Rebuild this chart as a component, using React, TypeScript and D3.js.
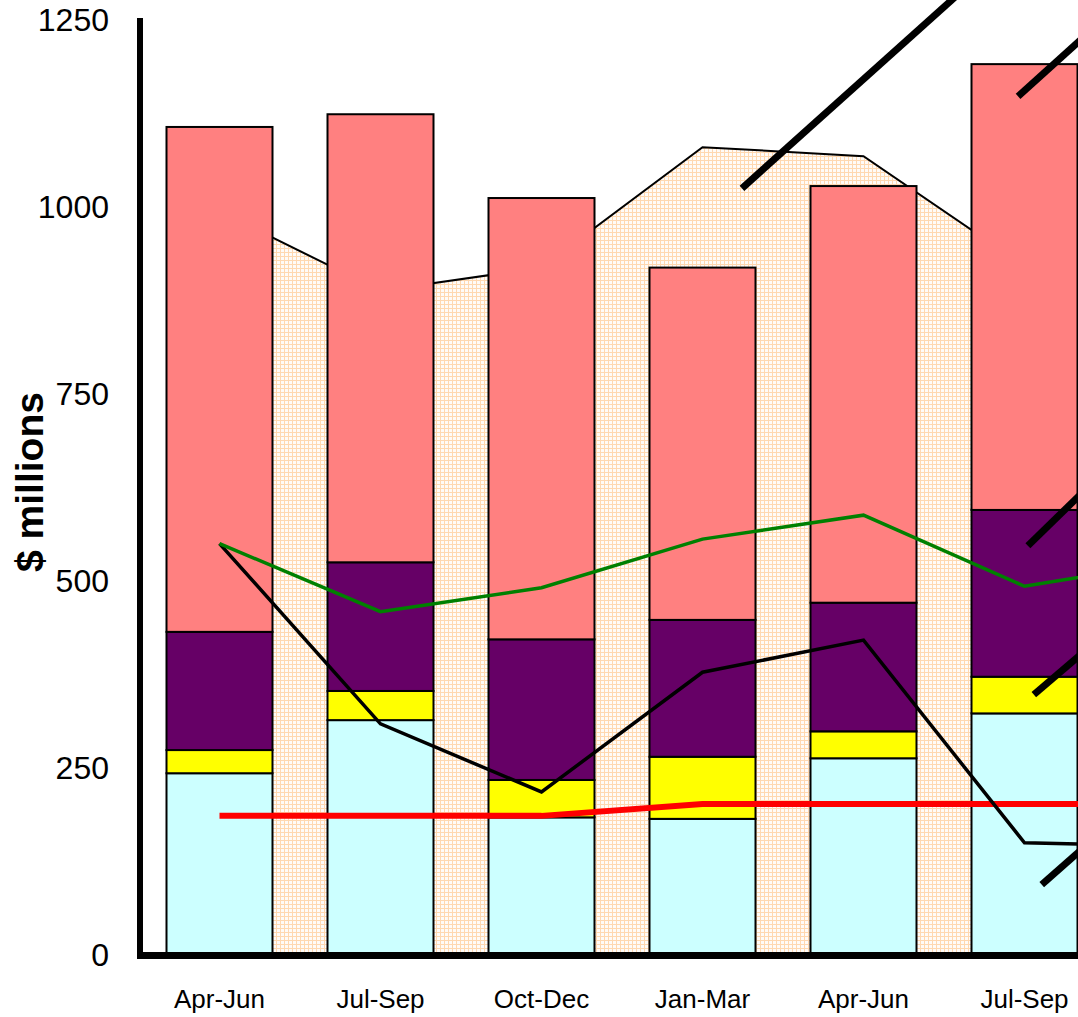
import React from "react";
import * as d3 from "d3";

const categories = ["Apr-Jun", "Jul-Sep", "Oct-Dec", "Jan-Mar", "Apr-Jun ", "Jul-Sep ", "Oct-Dec "];
const yTicks = [0, 250, 500, 750, 1000, 1250];

// stacked bar series (increments), bottom to top
const cyanVals = [243, 314, 184, 182, 263, 323];
const yellowVals = [31, 39, 50, 83, 36, 49];
const purpleVals = [158, 172, 188, 183, 172, 223];
const salmonVals = [675, 599, 590, 471, 557, 596];

// background area and lines
const areaVals = [994, 888, 919, 1080, 1068, 921, 950];
const greenVals = [550, 459, 491, 556, 588, 493, 528];
const blackVals = [550, 309, 218, 378, 421, 150, 145];
const redVals = [186, 186, 186, 202, 202, 202, 202];

// thick annotation strokes: [startIndex, startValue, endIndex, endValue]
const strokes: [number, number, number, number][] = [
  [3.245, 1025, 5, 1364],
  [4.96, 1148, 6, 1350],
  [5.021, 547, 6, 753],
  [5.058, 348, 6, 522],
  [5.107, 94, 6, 264],
];

const W = 1078;
const H = 1017;
const FONT = "'Liberation Sans', Arial, Helvetica, sans-serif";

export default function App() {
  const x = d3.scalePoint<string>().domain(categories).range([219.5, 219.5 + 161 * (categories.length - 1)]);
  const xi = d3.scaleLinear().domain([0, categories.length - 1]).range([219.5, 219.5 + 161 * (categories.length - 1)]);
  const y = d3.scaleLinear().domain([0, 1250]).range([955, 20]);
  const barW = 106;

  const keys = ["cyan", "yellow", "purple", "salmon"];
  const colors: Record<string, string> = {
    cyan: "#CCFFFF",
    yellow: "#FFFF00",
    purple: "#660066",
    salmon: "#FF8080",
  };
  const rows = cyanVals.map((_, i) => ({
    cat: categories[i],
    cyan: cyanVals[i],
    yellow: yellowVals[i],
    purple: purpleVals[i],
    salmon: salmonVals[i],
  }));
  const stacked = d3.stack<any>().keys(keys)(rows);

  const areaGen = d3
    .area<number>()
    .x((_, i) => xi(i))
    .y0(y(0))
    .y1((d) => y(d));
  const topLine = d3
    .line<number>()
    .x((_, i) => xi(i))
    .y((d) => y(d));

  return (
    <div style={{ position: "absolute", left: 0, top: 0 }}>
      <svg width={W} height={H} style={{ display: "block" }}>
        <defs>
          <pattern id="grid" width={4} height={4} patternUnits="userSpaceOnUse">
            <rect width={4} height={4} fill="#FFFBF7" />
            <path d="M0,0.5H4M0.5,0V4" stroke="#FFD8B0" strokeWidth={1} />
          </pattern>
        </defs>
        <rect width={W} height={H} fill="#fff" />

        {/* background area */}
        <path d={areaGen(areaVals) || ""} fill="url(#grid)" />
        <path d={topLine(areaVals) || ""} fill="none" stroke="#000" strokeWidth={2} />

        {/* stacked bars */}
        {stacked.map((layer) => (
          <g key={layer.key}>
            {layer.map((d, i) => (
              <rect
                key={i}
                x={(x(rows[i].cat) as number) - barW / 2}
                y={y(d[1])}
                width={barW}
                height={y(d[0]) - y(d[1])}
                fill={colors[layer.key]}
                stroke="#000"
                strokeWidth={2}
              />
            ))}
          </g>
        ))}

        {/* lines */}
        <path d={topLine(redVals) || ""} fill="none" stroke="#FF0000" strokeWidth={6} />
        <path d={topLine(blackVals) || ""} fill="none" stroke="#000" strokeWidth={3.5} />
        <path d={topLine(greenVals) || ""} fill="none" stroke="#008000" strokeWidth={3.5} />

        {/* thick strokes */}
        {strokes.map((s, i) => (
          <line key={i} x1={xi(s[0])} y1={y(s[1])} x2={xi(s[2])} y2={y(s[3])} stroke="#000" strokeWidth={7} />
        ))}

        {/* axes */}
        <line x1={140} x2={140} y1={18} y2={958} stroke="#000" strokeWidth={6} />
        <line x1={137} x2={W} y1={955.5} y2={955.5} stroke="#000" strokeWidth={7} />

        {yTicks.map((t) => (
          <text
            key={t}
            x={109}
            y={y(t)}
            textAnchor="end"
            dominantBaseline="central"
            fontFamily={FONT}
            fontSize={32}
            fill="#000"
          >
            {t}
          </text>
        ))}

        {rows.map((r) => (
          <text
            key={r.cat}
            x={x(r.cat) as number}
            y={1008}
            textAnchor="middle"
            fontFamily={FONT}
            fontSize={26}
            fill="#000"
          >
            {r.cat.trim()}
          </text>
        ))}

        <text
          transform={`translate(43,482) rotate(-90)`}
          textAnchor="middle"
          fontFamily={FONT}
          fontSize={39}
          fontWeight="bold"
          fill="#000"
        >
          $ millions
        </text>
      </svg>
    </div>
  );
}
